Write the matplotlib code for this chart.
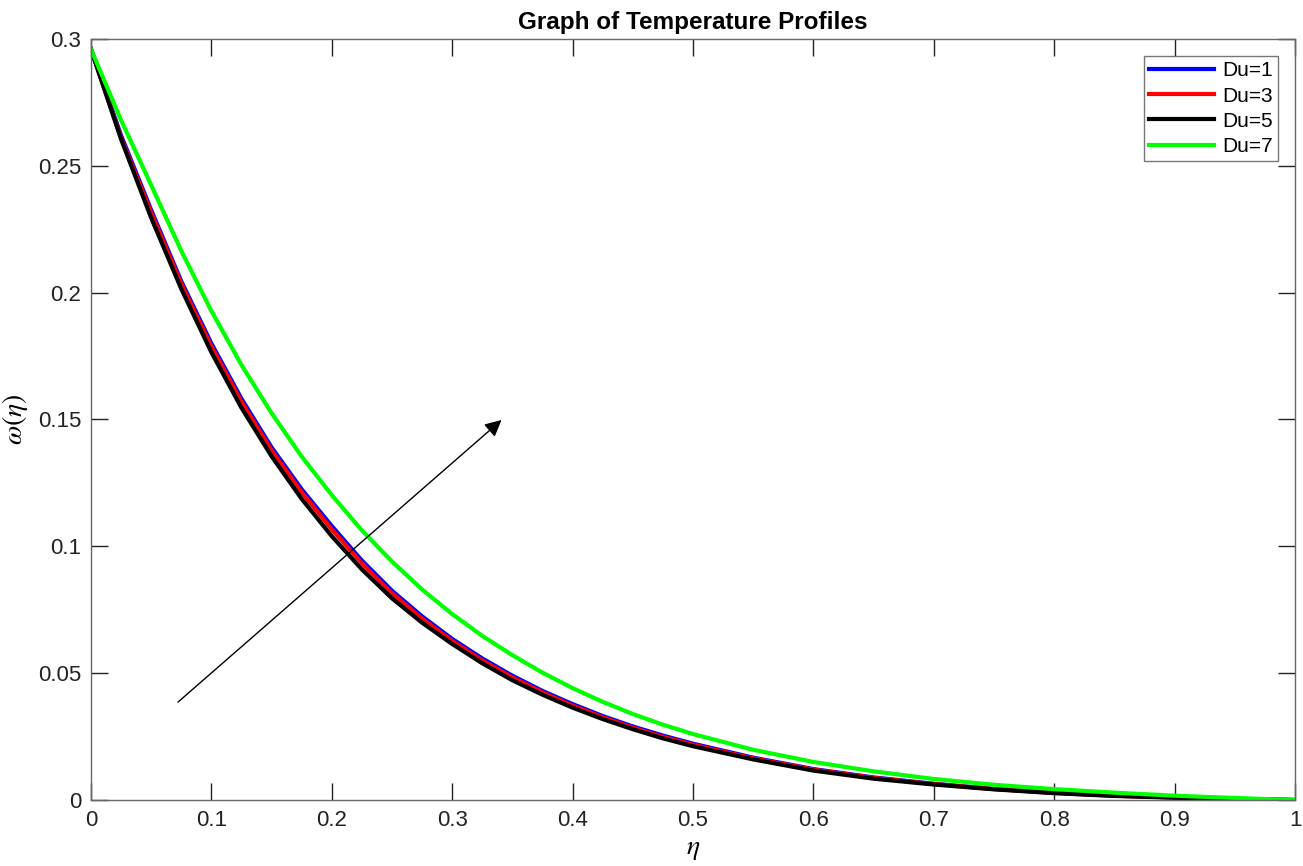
import numpy as np
import matplotlib
matplotlib.use("Agg")
from matplotlib import pyplot as plt

plt.rcParams['font.family'] = ['Liberation Sans', 'DejaVu Sans']
plt.rcParams['mathtext.fontset'] = 'stix'

# values
eta = [0, 0.025, 0.05, 0.075, 0.1, 0.125, 0.15, 0.175, 0.2, 0.225, 0.25, 0.275,
       0.3, 0.325, 0.35, 0.375, 0.4, 0.425, 0.45, 0.475, 0.5,
       0.55, 0.6, 0.65, 0.7, 0.75, 0.8, 0.85, 0.9, 0.95, 1.0]
du1 = [0.296, 0.262, 0.2326, 0.2045, 0.180, 0.1582, 0.139, 0.1225, 0.108, 0.0944,
       0.0825, 0.0724, 0.0635, 0.0558, 0.049, 0.0430, 0.0378, 0.0331, 0.029, 0.0254,
       0.0222, 0.0167, 0.0122, 0.0089, 0.0064, 0.0044, 0.0029,
       0.0018, 0.0010, 0.0004, 0.0]
du3 = [0.296, 0.261, 0.2315, 0.2035, 0.1788, 0.1570, 0.1378, 0.1213, 0.1067, 0.0933,
       0.0815, 0.0715, 0.0627, 0.0550, 0.0483, 0.0424, 0.0372, 0.0326, 0.0285, 0.0249,
       0.0218, 0.0164, 0.0120, 0.0087, 0.0063, 0.0043, 0.0028,
       0.0017, 0.0010, 0.0004, 0.0]
du5 = [0.296, 0.2605, 0.2295, 0.2015, 0.1765, 0.1546, 0.1355, 0.1187, 0.104, 0.0909,
       0.0795, 0.0699, 0.0615, 0.0539, 0.0472, 0.0415, 0.0364, 0.0319, 0.0279, 0.0243,
       0.0212, 0.0160, 0.0116, 0.0084, 0.0061, 0.0042, 0.0027,
       0.0016, 0.0009, 0.0003, 0.0]
du7 = [0.296, 0.268, 0.2424, 0.2165, 0.1928, 0.1715, 0.1525, 0.1354, 0.1202, 0.1063,
       0.094, 0.0830, 0.0733, 0.0647, 0.0571, 0.0502, 0.0441, 0.0387, 0.0339, 0.0297,
       0.026, 0.0198, 0.0150, 0.0113, 0.0083, 0.0060, 0.0043,
       0.0029, 0.0017, 0.0008, 0.0]
labels = ['Du=1', 'Du=3', 'Du=5', 'Du=7']
colors = ['#0000ff', '#ff0000', '#000000', '#00ff00']

fig = plt.figure(figsize=(13.03, 8.66), dpi=100)
ax = fig.add_axes([0.0698, 0.0762, 0.9241, 0.8788])

for ys, lab, col in zip([du1, du3, du5, du7], labels, colors):
    ax.plot(eta, ys, color=col, lw=3, label=lab, solid_joinstyle='round')

ax.set_xlim(0, 1)
ax.set_ylim(0, 0.3)
ax.set_xticks(np.arange(0, 1.01, 0.1))
ax.set_xticklabels(['0', '0.1', '0.2', '0.3', '0.4', '0.5', '0.6', '0.7', '0.8', '0.9', '1'])
ax.set_yticks([0, 0.05, 0.1, 0.15, 0.2, 0.25, 0.3])
ax.set_yticklabels(['0', '0.05', '0.1', '0.15', '0.2', '0.25', '0.3'])
ax.tick_params(direction='in', length=12, width=1, top=True, right=True,
               labelsize=16, colors='#222222', pad=7)
for sp in ax.spines.values():
    sp.set_color('#666666')
    sp.set_linewidth(1)

ax.set_title('Graph of Temperature Profiles', fontsize=17.5, fontweight='bold', pad=7)
ax.set_xlabel(r'$\eta$', fontsize=20, labelpad=4)
ax.set_ylabel(r'$\omega(\eta)$', fontsize=20, labelpad=6)

ax.annotate('', xy=(0.341, 0.1498), xytext=(0.0723, 0.0386),
            arrowprops=dict(arrowstyle='-|>', color='black', lw=1,
                            mutation_scale=25, shrinkA=0, shrinkB=0))

leg = ax.legend(loc='upper right', fontsize=15, frameon=True, fancybox=False,
                edgecolor='#555555', handlelength=3.1, borderaxespad=0.82,
                labelspacing=0.3, handletextpad=0.4, borderpad=0.25)
leg.get_frame().set_linewidth(1)

fig.savefig('out.png', dpi=100)
